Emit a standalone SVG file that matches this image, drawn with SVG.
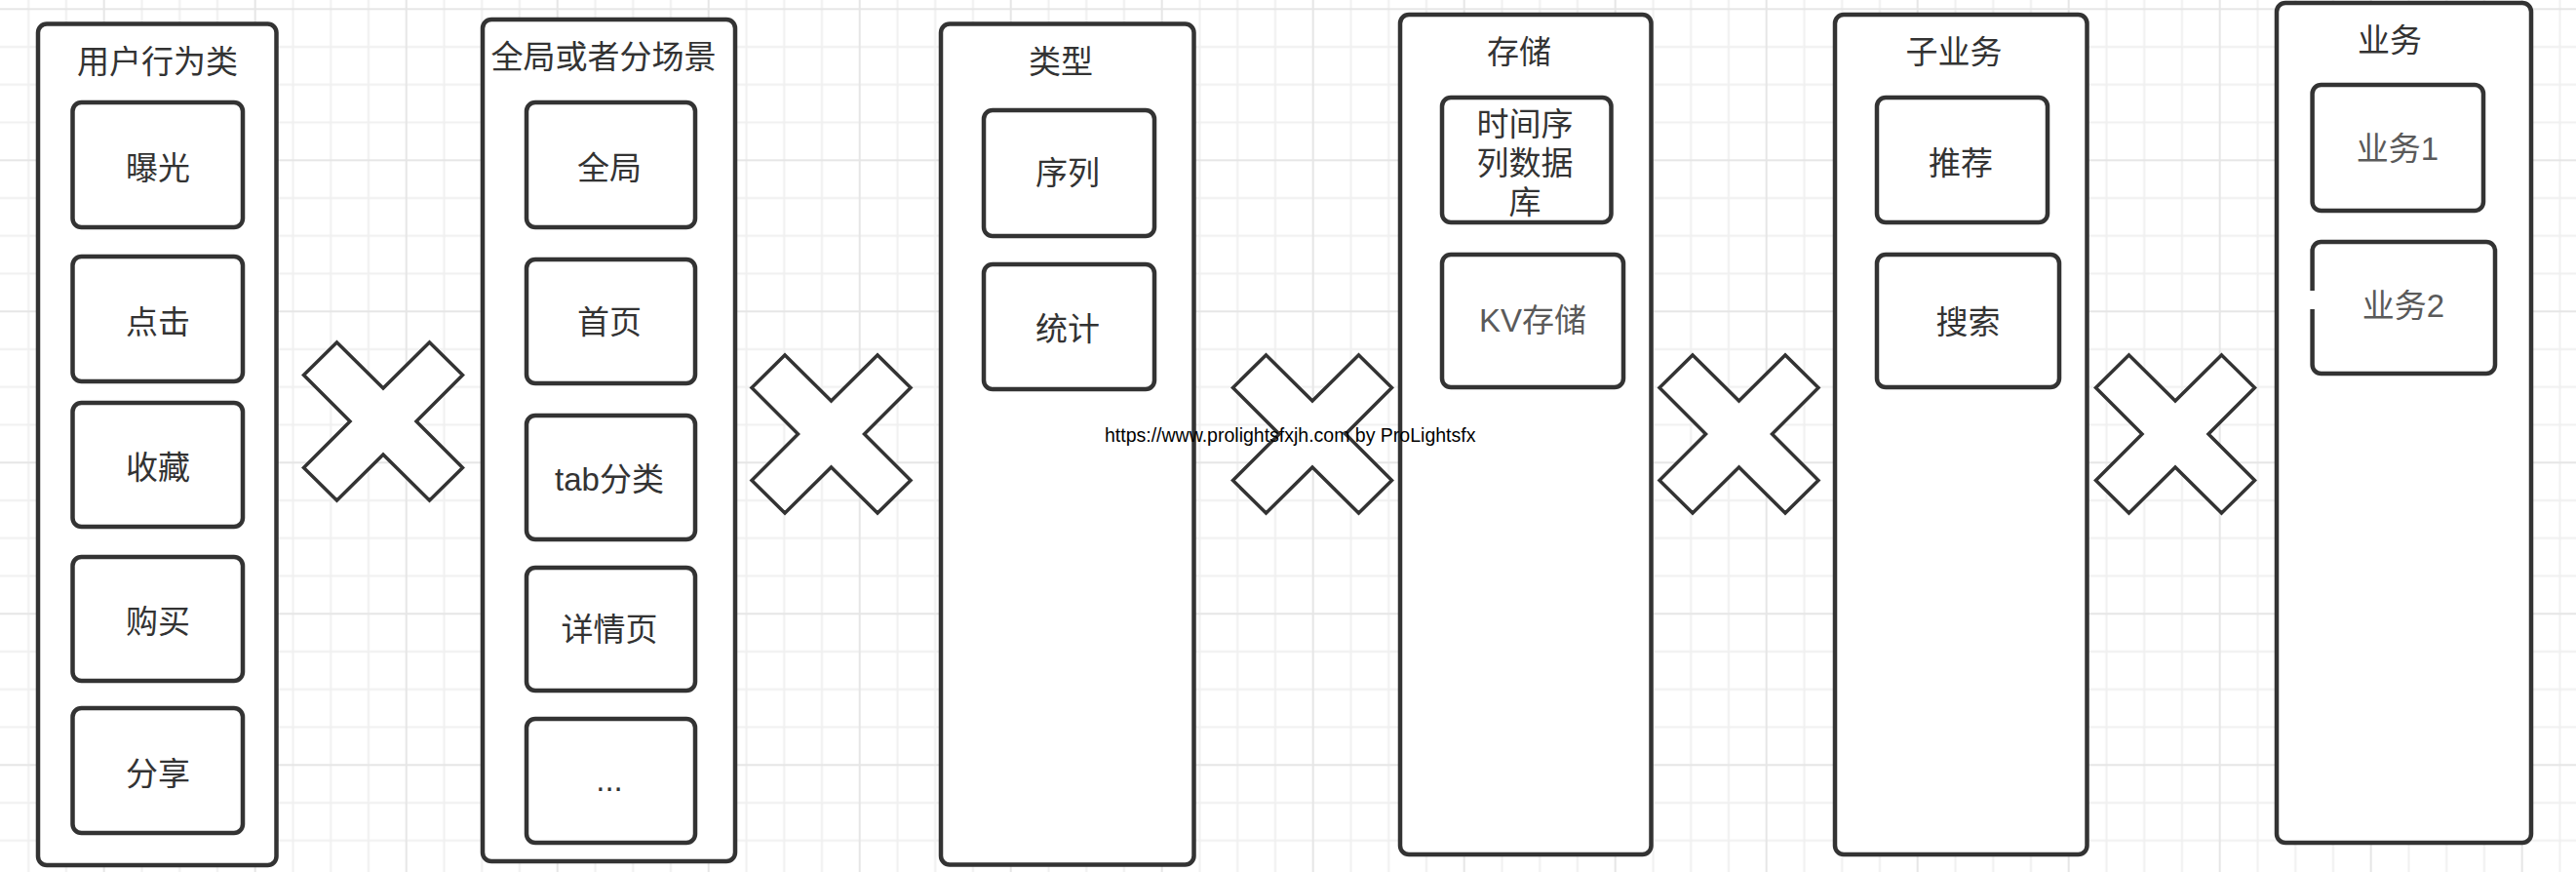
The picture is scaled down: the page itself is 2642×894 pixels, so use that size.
<svg xmlns="http://www.w3.org/2000/svg" width="2642" height="894" viewBox="0 0 2642 894">
<style>
.panel{fill:#fff;stroke:#333;stroke-width:4.5}
.box{fill:#fff;stroke:#333;stroke-width:4.5}
.x{fill:#fff;stroke:#333;stroke-width:3.5;stroke-linejoin:miter}
.t{font-family:"Liberation Sans","Noto Sans CJK SC",sans-serif;font-size:33px;fill:#333;text-anchor:middle;dominant-baseline:central}
.g{fill:#5a5a5a}
.wm{font-family:"Liberation Sans",Arial,sans-serif;font-size:19.5px;fill:#000}
</style>
<defs>
<pattern id="grid" patternUnits="userSpaceOnUse" x="106.7" y="9.3" width="155" height="155">
<rect width="155" height="155" fill="#fff"/>
<path d="M38.75 0V155M77.5 0V155M116.25 0V155M0 38.75H155M0 77.5H155M0 116.25H155" stroke="#f0f0f0" stroke-width="2"/>
<path d="M0 0V155M155 0V155M0 0H155M0 155H155" stroke="#e6e6e6" stroke-width="2"/>
</pattern>
<polygon id="xs" points="-47.5,-81 0,-34 47.5,-81 81.5,-47.5 34,0 81.5,47.5 47.5,81 0,34 -47.5,81 -81.5,47.5 -34,0 -81.5,-47.5"/>
</defs>
<rect width="2642" height="894" fill="url(#grid)"/>

<g id="panel-user-behavior">
<rect class="panel" x="39" y="24.5" width="244.5" height="862.5" rx="9"/>
<text class="t" x="161.5" y="63">用户行为类</text>
<g id="node-exposure"><rect class="box" x="74.5" y="105" width="174.5" height="128" rx="9"/><text class="t" x="162" y="172">曝光</text></g>
<g id="node-click"><rect class="box" x="74.5" y="263" width="174.5" height="128" rx="9"/><text class="t" x="162" y="330">点击</text></g>
<g id="node-favorite"><rect class="box" x="74.5" y="413" width="174.5" height="127" rx="9"/><text class="t" x="162" y="479.5">收藏</text></g>
<g id="node-purchase"><rect class="box" x="74.5" y="571" width="174.5" height="127" rx="9"/><text class="t" x="162" y="637.5">购买</text></g>
<g id="node-share"><rect class="box" x="74.5" y="726" width="174.5" height="128" rx="9"/><text class="t" x="162" y="793">分享</text></g>
</g>

<g id="panel-scene">
<rect class="panel" x="495" y="20" width="259" height="863" rx="9"/>
<text class="t" x="619" y="58">全局或者分场景</text>
<g id="node-global"><rect class="box" x="540" y="105" width="173" height="128" rx="9"/><text class="t" x="625" y="172">全局</text></g>
<g id="node-home"><rect class="box" x="540" y="266" width="173" height="127" rx="9"/><text class="t" x="625" y="330">首页</text></g>
<g id="node-tab"><rect class="box" x="540" y="426" width="173" height="127" rx="9"/><text class="t" x="625" y="491.5">tab分类</text></g>
<g id="node-detail"><rect class="box" x="540" y="582" width="173" height="126" rx="9"/><text class="t" x="625" y="645">详情页</text></g>
<g id="node-more"><rect class="box" x="540" y="737" width="173" height="127" rx="9"/><text class="t" x="625" y="799">...</text></g>
</g>

<g id="panel-type">
<rect class="panel" x="965" y="24.5" width="259.5" height="862" rx="9"/>
<text class="t" x="1088" y="63">类型</text>
<g id="node-sequence"><rect class="box" x="1009" y="113" width="175" height="129" rx="9"/><text class="t" x="1095" y="177">序列</text></g>
<g id="node-stat"><rect class="box" x="1009" y="271" width="175" height="128" rx="9"/><text class="t" x="1095" y="337">统计</text></g>
</g>

<g id="panel-storage">
<rect class="panel" x="1436" y="15" width="257.5" height="861" rx="9"/>
<text class="t" x="1558" y="53">存储</text>
<g id="node-tsdb"><rect class="box" x="1479" y="100" width="173.5" height="128" rx="9"/>
<text class="t" x="1564" y="127">时间序</text><text class="t" x="1564" y="167">列数据</text><text class="t" x="1564" y="207">库</text></g>
<g id="node-kv"><rect class="box" x="1479" y="261" width="186" height="136" rx="9"/><text class="t g" x="1572" y="328">KV存储</text></g>
</g>

<g id="panel-subbiz">
<rect class="panel" x="1882" y="15" width="258.5" height="861" rx="9"/>
<text class="t" x="2004" y="53">子业务</text>
<g id="node-recommend"><rect class="box" x="1925" y="100" width="175" height="128" rx="9"/><text class="t" x="2011" y="167">推荐</text></g>
<g id="node-search"><rect class="box" x="1925" y="261" width="187" height="136" rx="9"/><text class="t" x="2018.5" y="330">搜索</text></g>
</g>

<g id="panel-biz">
<rect class="panel" x="2335" y="3" width="261" height="861" rx="9"/>
<text class="t" x="2451" y="41">业务</text>
<g id="node-biz1"><rect class="box" x="2371.6" y="87" width="175.4" height="129" rx="9"/><text class="t g" x="2459" y="152">业务1</text></g>
<g id="node-biz2"><rect class="box" x="2371.6" y="248" width="187.4" height="135" rx="9"/>
<line x1="2371.6" y1="298" x2="2371.6" y2="317" stroke="#fff" stroke-width="7"/>
<text class="t g" x="2465" y="313">业务2</text></g>
</g>

<g id="cross-1"><use href="#xs" class="x" transform="translate(393,432)"/></g>
<g id="cross-2"><use href="#xs" class="x" transform="translate(852.5,445)"/></g>
<g id="cross-3"><use href="#xs" class="x" transform="translate(1346,445)"/></g>
<g id="cross-4"><use href="#xs" class="x" transform="translate(1783.5,445)"/></g>
<g id="cross-5"><use href="#xs" class="x" transform="translate(2231,445)"/></g>

<g id="connectors"/>

<text class="wm" x="1133" y="452.5">https://www.prolightsfxjh.com by ProLightsfx</text>
</svg>
